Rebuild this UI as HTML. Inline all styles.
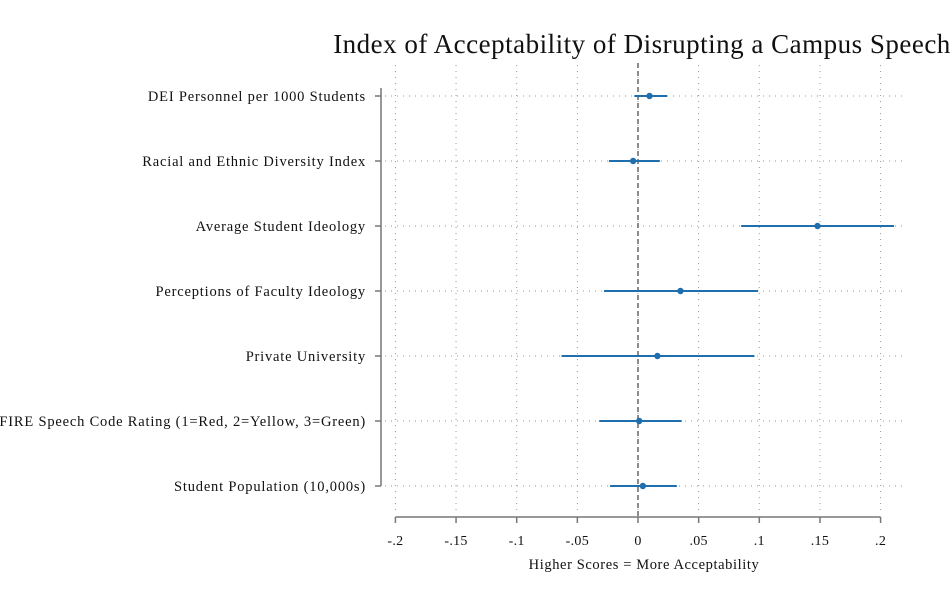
<!DOCTYPE html>
<html><head><meta charset="utf-8"><style>
html,body{margin:0;padding:0;background:#fff;}
svg{display:block;font-family:"Liberation Serif",serif;}
</style></head><body>
<svg id="chart" width="952" height="612" viewBox="0 0 952 612" xmlns="http://www.w3.org/2000/svg">
<text x="642" y="53" font-size="27" letter-spacing="0.5" text-anchor="middle" fill="#111">Index of Acceptability of Disrupting a Campus Speech</text>
<text x="644" y="569" font-size="14.5" letter-spacing="0.6" text-anchor="middle" fill="#111">Higher Scores = More Acceptability</text>
<g id="grid"></g><g id="axes"></g><g id="marks"></g>
</svg>
<script>
const categories = ["DEI Personnel per 1000 Students","Racial and Ethnic Diversity Index","Average Student Ideology","Perceptions of Faculty Ideology","Private University","FIRE Speech Code Rating (1=Red, 2=Yellow, 3=Green)","Student Population (10,000s)"];
const estimates = [0.0095,-0.004,0.148,0.035,0.016,0.001,0.004];
const lowerCI = [-0.003,-0.024,0.085,-0.028,-0.063,-0.032,-0.023];
const upperCI = [0.024,0.018,0.211,0.099,0.096,0.036,0.032];
const xTicks = [-0.2,-0.15,-0.1,-0.05,0,0.05,0.1,0.15,0.2];
const xTickLabels = ["-.2","-.15","-.1","-.05","0",".05",".1",".15",".2"];
const NS="http://www.w3.org/2000/svg";
const x = v => 638 + v*1213;
const y = i => 96 + i*65;
function mk(tag, attrs, parent){const e=document.createElementNS(NS,tag);for(const k in attrs)e.setAttribute(k,attrs[k]);document.getElementById(parent).appendChild(e);return e;}
xTicks.forEach((t,i)=>{
  const g=mk('line',{x1:x(t),x2:x(t),y1:65,y2:510,stroke:'#999','stroke-dasharray':'1 5','stroke-width':1},'grid');
  
  
  const tk=mk('line',{x1:x(t),x2:x(t),y1:517,y2:523,stroke:'#777','stroke-width':1.5},'axes');
  
  
  const tl=mk('text',{x:x(t),y:545,'font-size':14,'letter-spacing':0.3,'text-anchor':'middle',fill:'#111'},'axes');
  tl.textContent=xTickLabels[i];
  
  
});
categories.forEach((c,i)=>{
  const g=mk('line',{x1:385,x2:905,y1:y(i),y2:y(i),stroke:'#999','stroke-dasharray':'1 5','stroke-width':1},'grid');
  
  
  const tk=mk('line',{x1:375,x2:381,y1:y(i),y2:y(i),stroke:'#777','stroke-width':1.5},'axes');
  
  
  const tl=mk('text',{x:366,y:y(i)+5,'font-size':14.5,'letter-spacing':0.8,'text-anchor':'end',fill:'#111'},'axes');
  tl.textContent=c;
  
  
});
const ya=mk('line',{x1:381,x2:381,y1:88,y2:y(categories.length-1),stroke:'#777','stroke-width':1.5},'axes');


const xa=mk('line',{x1:x(-0.2),x2:x(0.2),y1:517,y2:517,stroke:'#777','stroke-width':1.5},'axes');


const zl=mk('line',{x1:x(0),x2:x(0),y1:63,y2:517,stroke:'#666','stroke-width':1.5,'stroke-dasharray':'5 3'},'grid');


estimates.forEach((v,i)=>{
  const ci=mk('line',{x1:x(lowerCI[i]),x2:x(upperCI[i]),y1:y(i),y2:y(i),stroke:'#1f6fae','stroke-width':2},'marks');
  
  
  const p=mk('circle',{cx:x(v),cy:y(i),r:3.2,fill:'#1f6fae'},'marks');
  
  
});
</script>
</body></html>
